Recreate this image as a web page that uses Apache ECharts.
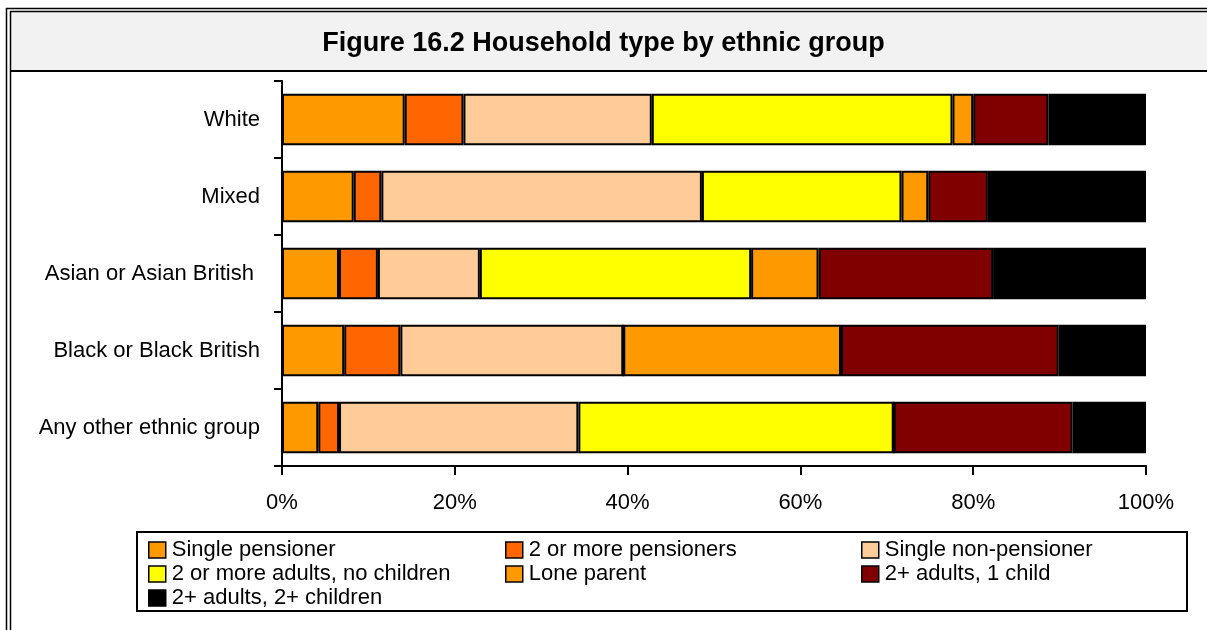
<!DOCTYPE html>
<html>
<head>
<meta charset="utf-8">
<title>Figure 16.2 Household type by ethnic group</title>
<script src="https://cdn.jsdelivr.net/npm/echarts@6/dist/echarts.min.js"></script>
<style>
    html, body { margin: 0; padding: 0; background: #fff; }
    #chart { width: 1207px; height: 630px; }
</style>
</head>
<body>
<div id="chart"></div>
<script>
// ethnic groups, top to bottom
var groups = ['White', 'Mixed', 'Asian or Asian British ', 'Black or Black British', 'Any other ethnic group'];

// household types (legend order)
var types = ['Single pensioner', '2 or more pensioners', 'Single non-pensioner',
    '2 or more adults, no children', 'Lone parent', '2+ adults, 1 child', '2+ adults, 2+ children'];

// percentages per household type, one value per group
var singlePensioner = [14.2, 8.3, 6.6, 7.2, 4.2];
var twoPensioners = [6.8, 3.2, 4.5, 6.5, 2.4];
var singleNonPensioner = [21.8, 37.1, 11.8, 25.8, 27.7];
var adultsNoChildren = [34.8, 23.1, 31.4, 0, 36.5];
var loneParent = [2.4, 3.1, 7.8, 25.2, 0];
var adultsOneChild = [8.7, 6.9, 20.2, 25.2, 20.7];
var adultsTwoChildren = [11.3, 18.3, 17.7, 10.1, 8.5];

var xTicks = [0, 20, 40, 60, 80, 100];

var values = [singlePensioner, twoPensioners, singleNonPensioner, adultsNoChildren,
    loneParent, adultsOneChild, adultsTwoChildren];
var colors = ['#FF9900', '#FF6600', '#FFCC99', '#FFFF00', '#FF9900', '#800000', '#000000'];

var font = '"Liberation Sans", Arial, sans-serif';

var series = [];
types.forEach(function (name, i) {
    series.push({
        name: name,
        type: 'bar',
        stack: 'total',
        barCategoryGap: '33%',
        data: values[i],
        itemStyle: {
            color: colors[i],
            borderColor: '#000',
            borderWidth: 2
        },
        emphasis: {disabled: true}
    });
});

//one legend per column of the legend box
function legendCol(left, names) {
    return {
        orient: 'vertical',
        left: left,
        top: 539,
        data: names,
        icon: 'rect',
        itemWidth: 17,
        itemHeight: 16,
        itemGap: 2,
        selectedMode: false,
        padding: 0,
        itemStyle: {borderColor: '#000', borderWidth: 1.5},
        textStyle: {
            fontFamily: font,
            fontSize: 22,
            lineHeight: 22,
            color: '#000',
            padding: [0, 0, 0, 1]
        }
    };
}

var option = {
    animation: false,
    backgroundColor: '#fff',
    title: {
        text: 'Figure 16.2 Household type by ethnic group',
        left: 'center',
        top: 30,
        padding: 0,
        textStyle: {
            fontFamily: font,
            fontWeight: 'bold',
            fontSize: 27,
            color: '#000'
        }
    },
    legend: [
        legendCol(148, [types[0], types[3], types[6]]),
        legendCol(505, [types[1], types[4]]),
        legendCol(861, [types[2], types[5]])
    ],
    grid: {
        left: 282,
        right: 61,
        top: 81,
        bottom: 164
    },
    xAxis: {
        type: 'value',
        min: xTicks[0],
        max: xTicks[xTicks.length - 1],
        interval: xTicks[1] - xTicks[0],
        splitLine: {show: false},
        axisLine: {show: true, lineStyle: {color: '#000', width: 2}},
        axisTick: {show: true, length: 9, lineStyle: {color: '#000', width: 2}},
        axisLabel: {
            margin: 26,
            formatter: '{value}%',
            fontFamily: font,
            fontSize: 22,
            color: '#000'
        }
    },
    yAxis: {
        type: 'category',
        inverse: true,
        data: groups,
        axisLine: {show: true, lineStyle: {color: '#000', width: 2}},
        axisTick: {show: true, length: 8, lineStyle: {color: '#000', width: 2}},
        axisLabel: {
            margin: 22,
            fontFamily: font,
            fontSize: 22,
            color: '#000'
        }
    },
    // frame, header band and legend box
    graphic: [
        {type: 'rect', z: -10, shape: {x: 11, y: 12, width: 1200, height: 59}, style: {fill: '#f2f2f2'}},
        {type: 'line', shape: {x1: 6, y1: 8.5, x2: 1210, y2: 8.5}, style: {stroke: '#000', lineWidth: 1.5}},
        {type: 'line', shape: {x1: 10, y1: 11.5, x2: 1210, y2: 11.5}, style: {stroke: '#000', lineWidth: 1.5}},
        {type: 'line', shape: {x1: 10, y1: 71, x2: 1210, y2: 71}, style: {stroke: '#000', lineWidth: 2}},
        {type: 'line', shape: {x1: 6.5, y1: 8, x2: 6.5, y2: 632}, style: {stroke: '#000', lineWidth: 1.5}},
        {type: 'line', shape: {x1: 10.5, y1: 11, x2: 10.5, y2: 632}, style: {stroke: '#000', lineWidth: 1.5}},
        {type: 'rect', shape: {x: 137, y: 532, width: 1050, height: 79}, style: {fill: 'none', stroke: '#000', lineWidth: 2}}
    ],
    series: series
};

echarts.init(document.getElementById('chart')).setOption(option);
</script>
</body>
</html>
